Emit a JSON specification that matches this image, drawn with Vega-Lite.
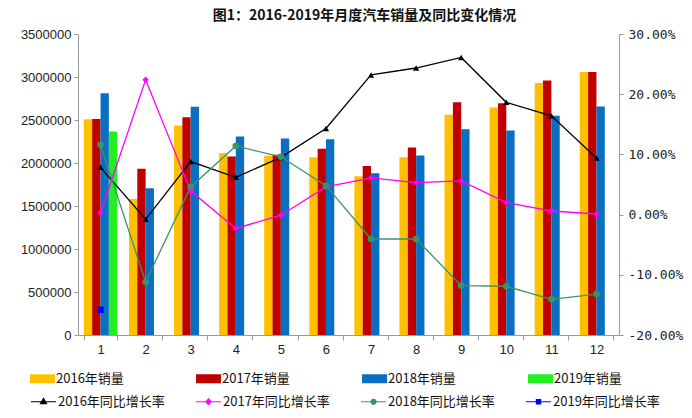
{
  "$schema": "https://vega.github.io/schema/vega-lite/v6.json",
  "width": 541,
  "height": 301,
  "autosize": {"type": "none"},
  "padding": {"left": 78, "top": 34, "right": 73, "bottom": 83},
  "background": "white",
  "title": {
    "text": "图1：2016-2019年月度汽车销量及同比变化情况",
    "font": "Noto Sans CJK SC",
    "fontSize": 14,
    "fontWeight": "bold",
    "color": "#111111",
    "anchor": "middle",
    "frame": "group",
    "dx": 16,
    "offset": 5
  },
  "config": {
    "view": {"stroke": null},
    "axis": {
      "grid": false,
      "domainColor": "#9a9a9a",
      "tickColor": "#9a9a9a",
      "labelColor": "#222222",
      "titleColor": "#222222"
    },
    "legend": {"padding": 0}
  },
  "datasets": {
    "sales": [
      {"month": 1, "series": "2016年销量", "sales": 2508000},
      {"month": 2, "series": "2016年销量", "sales": 1580000},
      {"month": 3, "series": "2016年销量", "sales": 2436000},
      {"month": 4, "series": "2016年销量", "sales": 2115000},
      {"month": 5, "series": "2016年销量", "sales": 2085000},
      {"month": 6, "series": "2016年销量", "sales": 2066000},
      {"month": 7, "series": "2016年销量", "sales": 1845000},
      {"month": 8, "series": "2016年销量", "sales": 2066000},
      {"month": 9, "series": "2016年销量", "sales": 2560000},
      {"month": 10, "series": "2016年销量", "sales": 2645000},
      {"month": 11, "series": "2016年销量", "sales": 2930000},
      {"month": 12, "series": "2016年销量", "sales": 3058000},
      {"month": 1, "series": "2017年销量", "sales": 2512000},
      {"month": 2, "series": "2017年销量", "sales": 1932000},
      {"month": 3, "series": "2017年销量", "sales": 2533000},
      {"month": 4, "series": "2017年销量", "sales": 2076000},
      {"month": 5, "series": "2017年销量", "sales": 2095000},
      {"month": 6, "series": "2017年销量", "sales": 2165000},
      {"month": 7, "series": "2017年销量", "sales": 1966000},
      {"month": 8, "series": "2017年销量", "sales": 2180000},
      {"month": 9, "series": "2017年销量", "sales": 2707000},
      {"month": 10, "series": "2017年销量", "sales": 2696000},
      {"month": 11, "series": "2017年销量", "sales": 2958000},
      {"month": 12, "series": "2017年销量", "sales": 3058000},
      {"month": 1, "series": "2018年销量", "sales": 2810000},
      {"month": 2, "series": "2018年销量", "sales": 1707000},
      {"month": 3, "series": "2018年销量", "sales": 2655000},
      {"month": 4, "series": "2018年销量", "sales": 2307000},
      {"month": 5, "series": "2018年销量", "sales": 2285000},
      {"month": 6, "series": "2018年销量", "sales": 2277000},
      {"month": 7, "series": "2018年销量", "sales": 1880000},
      {"month": 8, "series": "2018年销量", "sales": 2087000},
      {"month": 9, "series": "2018年销量", "sales": 2392000},
      {"month": 10, "series": "2018年销量", "sales": 2377000},
      {"month": 11, "series": "2018年销量", "sales": 2550000},
      {"month": 12, "series": "2018年销量", "sales": 2656000},
      {"month": 1, "series": "2019年销量", "sales": 2365000}
    ],
    "rates": [
      {"month": 1, "series": "2016年同比增长率", "rate": 0.0785},
      {"month": 2, "series": "2016年同比增长率", "rate": -0.0078},
      {"month": 3, "series": "2016年同比增长率", "rate": 0.088},
      {"month": 4, "series": "2016年同比增长率", "rate": 0.062},
      {"month": 5, "series": "2016年同比增长率", "rate": 0.095},
      {"month": 6, "series": "2016年同比增长率", "rate": 0.143},
      {"month": 7, "series": "2016年同比增长率", "rate": 0.232},
      {"month": 8, "series": "2016年同比增长率", "rate": 0.2435},
      {"month": 9, "series": "2016年同比增长率", "rate": 0.261},
      {"month": 10, "series": "2016年同比增长率", "rate": 0.1865},
      {"month": 11, "series": "2016年同比增长率", "rate": 0.164},
      {"month": 12, "series": "2016年同比增长率", "rate": 0.094},
      {"month": 1, "series": "2017年同比增长率", "rate": 0.003},
      {"month": 2, "series": "2017年同比增长率", "rate": 0.224},
      {"month": 3, "series": "2017年同比增长率", "rate": 0.039},
      {"month": 4, "series": "2017年同比增长率", "rate": -0.023},
      {"month": 5, "series": "2017年同比增长率", "rate": -0.001},
      {"month": 6, "series": "2017年同比增长率", "rate": 0.046},
      {"month": 7, "series": "2017年同比增长率", "rate": 0.061},
      {"month": 8, "series": "2017年同比增长率", "rate": 0.053},
      {"month": 9, "series": "2017年同比增长率", "rate": 0.056},
      {"month": 10, "series": "2017年同比增长率", "rate": 0.02},
      {"month": 11, "series": "2017年同比增长率", "rate": 0.006},
      {"month": 12, "series": "2017年同比增长率", "rate": 0.001},
      {"month": 1, "series": "2018年同比增长率", "rate": 0.116},
      {"month": 2, "series": "2018年同比增长率", "rate": -0.112},
      {"month": 3, "series": "2018年同比增长率", "rate": 0.046},
      {"month": 4, "series": "2018年同比增长率", "rate": 0.114},
      {"month": 5, "series": "2018年同比增长率", "rate": 0.096},
      {"month": 6, "series": "2018年同比增长率", "rate": 0.048},
      {"month": 7, "series": "2018年同比增长率", "rate": -0.0405},
      {"month": 8, "series": "2018年同比增长率", "rate": -0.0405},
      {"month": 9, "series": "2018年同比增长率", "rate": -0.118},
      {"month": 10, "series": "2018年同比增长率", "rate": -0.119},
      {"month": 11, "series": "2018年同比增长率", "rate": -0.1407},
      {"month": 12, "series": "2018年同比增长率", "rate": -0.132},
      {"month": 1, "series": "2019年同比增长率", "rate": -0.158}
    ]
  },
  "encoding": {
    "x": {
      "field": "month",
      "type": "ordinal",
      "scale": {"paddingInner": 0.26, "paddingOuter": 0.13},
      "axis": {
        "title": null,
        "labelAngle": 0,
        "tickBand": "extent",
        "tickSize": 5,
        "labelPadding": 3,
        "labelFont": "Liberation Sans",
        "labelFontSize": 13
      }
    }
  },
  "layer": [
    {
      "data": {"name": "sales"},
      "mark": {"type": "bar"},
      "encoding": {
        "xOffset": {
          "field": "series",
          "type": "nominal",
          "scale": {
            "domain": ["2016年销量", "2017年销量", "2018年销量", "2019年销量"],
            "paddingInner": 0,
            "paddingOuter": 0
          }
        },
        "y": {
          "field": "sales",
          "type": "quantitative",
          "scale": {"domain": [0, 3500000], "nice": false, "zero": true},
          "axis": {
            "title": null,
            "orient": "left",
            "values": [0, 500000, 1000000, 1500000, 2000000, 2500000, 3000000, 3500000],
            "format": "d",
            "tickSize": 4,
            "labelPadding": 3,
            "labelFont": "Liberation Sans",
            "labelFontSize": 13
          }
        },
        "fill": {
          "field": "series",
          "type": "nominal",
          "scale": {
            "domain": ["2016年销量", "2017年销量", "2018年销量", "2019年销量"],
            "range": ["#FFC000", "#C00000", "#0A6FC2", "#22EE22"]
          },
          "legend": {
            "title": null,
            "orient": "none",
            "legendX": -48,
            "legendY": 332,
            "direction": "horizontal",
            "columns": 4,
            "columnPadding": 72,
            "symbolType": "M-1,-0.36H1V0.36H-1Z",
            "symbolSize": 625,
            "symbolStrokeWidth": 0,
            "labelFont": "Noto Sans CJK SC",
            "labelFontSize": 13,
            "labelColor": "#111111",
            "labelOffset": 1
          }
        }
      }
    },
    {
      "data": {"name": "rates"},
      "encoding": {
        "y": {
          "field": "rate",
          "type": "quantitative",
          "scale": {"domain": [-0.2, 0.3], "nice": false, "zero": false},
          "axis": {
            "title": null,
            "orient": "right",
            "values": [-0.2, -0.1, 0, 0.1, 0.2, 0.3],
            "labelExpr": "replace(format(datum.value * 100, '.2f'), '\u2212', '-') + '%'",
            "tickSize": 4,
            "labelPadding": 5,
            "labelFont": "DejaVu Sans Mono",
            "labelFontSize": 13
          }
        }
      },
      "layer": [
        {
          "mark": {"type": "line", "strokeWidth": 1.3},
          "encoding": {
            "stroke": {
              "field": "series",
              "type": "nominal",
              "scale": {
                "domain": ["2016年同比增长率", "2017年同比增长率", "2018年同比增长率", "2019年同比增长率"],
                "range": ["#000000", "#FF00FF", "#3A9468", "#0000FF"]
              },
              "legend": {
                "title": null,
                "orient": "none",
                "legendX": -48,
                "legendY": 354,
                "direction": "horizontal",
                "columns": 4,
                "columnPadding": 28,
                "symbolSize": 625,
                "symbolStrokeWidth": 1.2,
                "labelFont": "Noto Sans CJK SC",
                "labelFontSize": 13,
                "labelColor": "#111111",
                "labelOffset": 1,
                "encode": {
                  "symbols": {
                    "update": {
                      "shape": {"signal": "['M-1,0H1M0,-0.26L0.24,0.16H-0.24Z', 'M-1,0H1M0,-0.22L0.2,0L0,0.22L-0.2,0Z', 'M-1,0H1M0.2,0A0.2,0.2,0,1,1,-0.2,0A0.2,0.2,0,1,1,0.2,0Z', 'M-1,0H1M-0.17,-0.17H0.17V0.17H-0.17Z'][datum.index]"},
                      "fill": {"signal": "['#000000', '#FF00FF', '#3A9468', '#0000FF'][datum.index]"}
                    }
                  }
                }
              }
            }
          }
        },
        {
          "transform": [{"filter": "datum.series == '2016年同比增长率'"}],
          "mark": {"type": "point", "filled": true, "opacity": 1, "size": 40, "shape": "triangle-up", "color": "#000000"}
        },
        {
          "transform": [{"filter": "datum.series == '2017年同比增长率'"}],
          "mark": {"type": "point", "filled": true, "opacity": 1, "size": 40, "shape": "diamond", "color": "#FF00FF"}
        },
        {
          "transform": [{"filter": "datum.series == '2018年同比增长率'"}],
          "mark": {"type": "point", "filled": true, "opacity": 1, "size": 44, "shape": "circle", "color": "#3A9468"}
        },
        {
          "transform": [{"filter": "datum.series == '2019年同比增长率'"}],
          "mark": {"type": "point", "filled": true, "opacity": 1, "size": 40, "shape": "square", "color": "#0000FF"}
        }
      ]
    }
  ],
  "resolve": {"scale": {"y": "independent", "fill": "independent"}}
}
